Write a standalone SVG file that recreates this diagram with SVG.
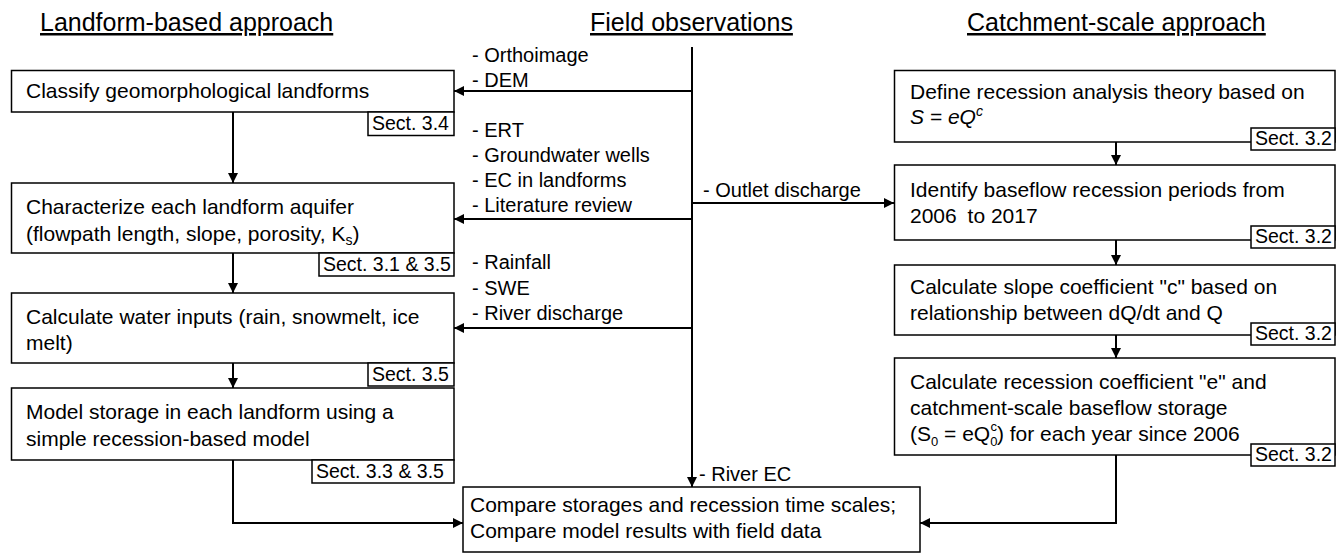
<svg xmlns="http://www.w3.org/2000/svg" width="1336" height="557" viewBox="0 0 1336 557">
<style>
text{font-family:"Liberation Sans",Arial,sans-serif;fill:#000}
.t{font-size:21px}
.l{font-size:20px}
.s{font-size:19.5px}
.h{font-size:25px;text-decoration:underline}
.box{fill:#fff;stroke:#000;stroke-width:1.5}
.c{fill:none;stroke:#000;stroke-width:2}
</style>
<defs>
<marker id="ah" viewBox="0 0 10 10" refX="10" refY="5" markerWidth="5" markerHeight="5" orient="auto" markerUnits="strokeWidth">
<path d="M0,0 L10,5 L0,10 z" fill="#000"/>
</marker>
</defs>
<rect width="1336" height="557" fill="#fff"/>
<g id="titles">
<text class="h" x="40" y="31">Landform-based approach</text>
<text class="h" x="590" y="31">Field observations</text>
<text class="h" x="967" y="31">Catchment-scale approach</text>
</g>
<g id="connectors">
<path class="c" d="M233,112 V183" marker-end="url(#ah)"/>
<path class="c" d="M233,253 V293" marker-end="url(#ah)"/>
<path class="c" d="M233,363 V388" marker-end="url(#ah)"/>
<path class="c" d="M233,460 V523 H463" marker-end="url(#ah)"/>
<path class="c" d="M692,47 V487" marker-end="url(#ah)"/>
<path class="c" d="M692,91 H454" marker-end="url(#ah)"/>
<path class="c" d="M692,219 H454" marker-end="url(#ah)"/>
<path class="c" d="M692,328 H454" marker-end="url(#ah)"/>
<path class="c" d="M692,203 H894" marker-end="url(#ah)"/>
<path class="c" d="M1116,142 V165" marker-end="url(#ah)"/>
<path class="c" d="M1116,240 V265" marker-end="url(#ah)"/>
<path class="c" d="M1116,335 V358" marker-end="url(#ah)"/>
<path class="c" d="M1116,455 V523 H920" marker-end="url(#ah)"/>
</g>
<g id="field-labels">
<text class="l" x="472" y="62">- Orthoimage</text>
<text class="l" x="472" y="87">- DEM</text>
<text class="l" x="472" y="137">- ERT</text>
<text class="l" x="472" y="162">- Groundwater wells</text>
<text class="l" x="472" y="187">- EC in landforms</text>
<text class="l" x="472" y="212">- Literature review</text>
<text class="l" x="472" y="269">- Rainfall</text>
<text class="l" x="472" y="295">- SWE</text>
<text class="l" x="472" y="320">- River discharge</text>
<text class="l" x="703" y="197">- Outlet discharge</text>
<text class="l" x="699" y="481">- River EC</text>
</g>
<g id="classify">
<rect class="box" x="11.5" y="70.5" width="442.5" height="41.5"/>
<text class="t" x="26" y="98">Classify geomorphological landforms</text>
<rect class="box" x="368" y="112" width="86" height="23.5"/>
<text class="s" x="372" y="130">Sect. 3.4</text>
</g>
<g id="characterize">
<rect class="box" x="11.5" y="183" width="442.5" height="70"/>
<text class="t" x="26" y="214">Characterize each landform aquifer</text>
<text class="t" x="26" y="241">(flowpath length, slope, porosity, K<tspan font-size="14" dy="4">s</tspan><tspan dy="-4">)</tspan></text>
<rect class="box" x="319" y="253" width="135" height="23"/>
<text class="s" x="323" y="271">Sect. 3.1 &amp; 3.5</text>
</g>
<g id="water-inputs">
<rect class="box" x="11.5" y="293" width="442.5" height="70"/>
<text class="t" x="26" y="324">Calculate water inputs (rain, snowmelt, ice</text>
<text class="t" x="26" y="350">melt)</text>
<rect class="box" x="368" y="363" width="86" height="23"/>
<text class="s" x="372" y="381">Sect. 3.5</text>
</g>
<g id="model-storage">
<rect class="box" x="11.5" y="388" width="442.5" height="72"/>
<text class="t" x="26" y="419">Model storage in each landform using a</text>
<text class="t" x="26" y="446">simple recession-based model</text>
<rect class="box" x="312" y="460" width="142" height="23"/>
<text class="s" x="316" y="478">Sect. 3.3 &amp; 3.5</text>
</g>
<g id="define">
<rect class="box" x="894.5" y="70.5" width="440.5" height="71.5"/>
<text class="t" x="910" y="99">Define recession analysis theory based on</text>
<text class="t" x="910" y="124" font-style="italic">S = eQ<tspan font-size="14" dy="-8">c</tspan></text>
<rect class="box" x="1251" y="128" width="84" height="22"/>
<text class="s" x="1255" y="145">Sect. 3.2</text>
</g>
<g id="identify">
<rect class="box" x="894.5" y="165" width="440.5" height="75"/>
<text class="t" x="910" y="197">Identify baseflow recession periods from</text>
<text class="t" x="910" y="223">2006 <tspan dx="5">to 2017</tspan></text>
<rect class="box" x="1251" y="226" width="84" height="22"/>
<text class="s" x="1255" y="243">Sect. 3.2</text>
</g>
<g id="slope">
<rect class="box" x="894.5" y="265" width="440.5" height="70"/>
<text class="t" x="910" y="294">Calculate slope coefficient "c" based on</text>
<text class="t" x="910" y="320">relationship between dQ/dt and Q</text>
<rect class="box" x="1251" y="323" width="84" height="22"/>
<text class="s" x="1255" y="340">Sect. 3.2</text>
</g>
<g id="recession-coef">
<rect class="box" x="894.5" y="358" width="440.5" height="97"/>
<text class="t" x="910" y="389">Calculate recession coefficient "e" and</text>
<text class="t" x="910" y="415">catchment-scale baseflow storage</text>
<text class="t" x="910" y="441">(S<tspan font-size="13" dy="5">0</tspan><tspan dy="-5"> = eQ</tspan><tspan font-size="13" dy="5">0</tspan><tspan font-size="13" dx="-7" dy="-15">c</tspan><tspan dy="10">) for each year since 2006</tspan></text>
<rect class="box" x="1251" y="444" width="84" height="22"/>
<text class="s" x="1255" y="461">Sect. 3.2</text>
</g>
<g id="compare">
<rect class="box" x="463" y="487" width="457" height="65"/>
<text class="t" x="470" y="512">Compare storages and recession time scales;</text>
<text class="t" x="470" y="538">Compare model results with field data</text>
</g>
</svg>
